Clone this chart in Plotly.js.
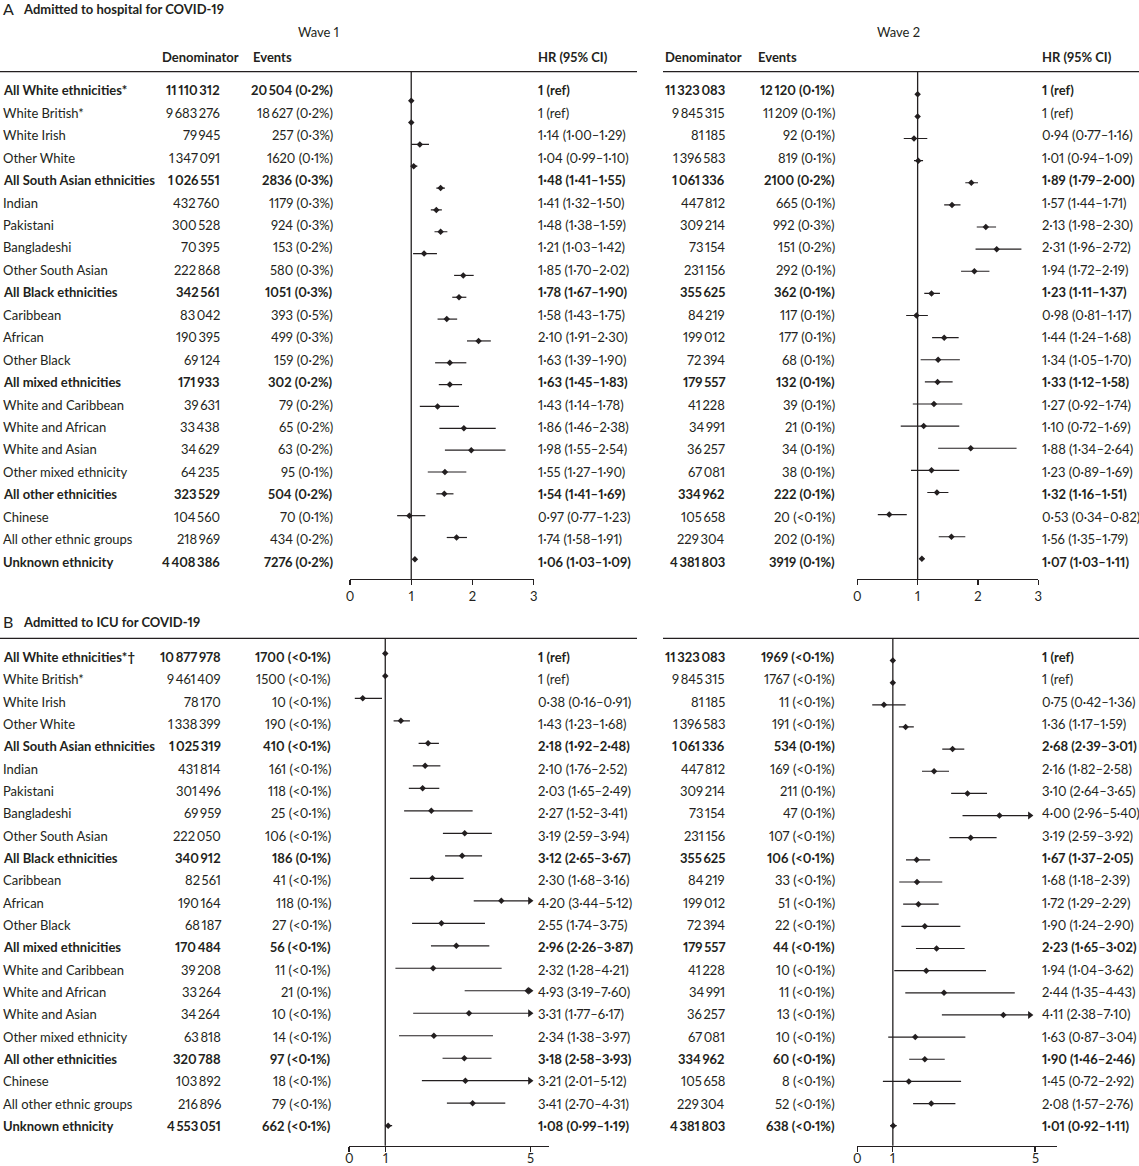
<!DOCTYPE html>
<html><head><meta charset="utf-8">
<script src="https://cdn.plot.ly/plotly-3.0.1.min.js"></script>
<style>html,body{margin:0;padding:0;background:#fff} svg text{font-variant-numeric: proportional-nums; font-feature-settings: "pnum" 1;}</style>
</head><body><div id="chart" style="width:1139px;height:1166px"></div>
<script>
// ---------------- DATA ----------------
const labelsA = ['All White ethnicities*','White British*','White Irish','Other White','All South Asian ethnicities','Indian','Pakistani','Bangladeshi','Other South Asian','All Black ethnicities','Caribbean','African','Other Black','All mixed ethnicities','White and Caribbean','White and African','White and Asian','Other mixed ethnicity','All other ethnicities','Chinese','All other ethnic groups','Unknown ethnicity'];
const labelsB = ['All White ethnicities*\u2020','White British*','White Irish','Other White','All South Asian ethnicities','Indian','Pakistani','Bangladeshi','Other South Asian','All Black ethnicities','Caribbean','African','Other Black','All mixed ethnicities','White and Caribbean','White and African','White and Asian','Other mixed ethnicity','All other ethnicities','Chinese','All other ethnic groups','Unknown ethnicity'];
const boldRows = [0,4,9,13,18,21];

// Panel A, wave 1
const denomA1 = [11110312,9683276,79945,1347091,1026551,432760,300528,70395,222868,342561,83042,190395,69124,171933,39631,33438,34629,64235,323529,104560,218969,4408386];
const eventsA1 = [20504,18627,257,1620,2836,1179,924,153,580,1051,393,499,159,302,79,65,63,95,504,70,434,7276];
const pctA1 = ['0.2','0.2','0.3','0.1','0.3','0.3','0.3','0.2','0.3','0.3','0.5','0.3','0.2','0.2','0.2','0.2','0.2','0.1','0.2','0.1','0.2','0.2'];
const hrA1 = [1,1,1.14,1.04,1.48,1.41,1.48,1.21,1.85,1.78,1.58,2.10,1.63,1.63,1.43,1.86,1.98,1.55,1.54,0.97,1.74,1.06];
const loA1 = [null,null,1.00,0.99,1.41,1.32,1.38,1.03,1.70,1.67,1.43,1.91,1.39,1.45,1.14,1.46,1.55,1.27,1.41,0.77,1.58,1.03];
const hiA1 = [null,null,1.29,1.10,1.55,1.50,1.59,1.42,2.02,1.90,1.75,2.30,1.90,1.83,1.78,2.38,2.54,1.90,1.69,1.23,1.91,1.09];

// Panel A, wave 2
const denomA2 = [11323083,9845315,81185,1396583,1061336,447812,309214,73154,231156,355625,84219,199012,72394,179557,41228,34991,36257,67081,334962,105658,229304,4381803];
const eventsA2 = [12120,11209,92,819,2100,665,992,151,292,362,117,177,68,132,39,21,34,38,222,20,202,3919];
const pctA2 = ['0.1','0.1','0.1','0.1','0.2','0.1','0.3','0.2','0.1','0.1','0.1','0.1','0.1','0.1','0.1','0.1','0.1','0.1','0.1','<0.1','0.1','0.1'];
const hrA2 = [1,1,0.94,1.01,1.89,1.57,2.13,2.31,1.94,1.23,0.98,1.44,1.34,1.33,1.27,1.10,1.88,1.23,1.32,0.53,1.56,1.07];
const loA2 = [null,null,0.77,0.94,1.79,1.44,1.98,1.96,1.72,1.11,0.81,1.24,1.05,1.12,0.92,0.72,1.34,0.89,1.16,0.34,1.35,1.03];
const hiA2 = [null,null,1.16,1.09,2.00,1.71,2.30,2.72,2.19,1.37,1.17,1.68,1.70,1.58,1.74,1.69,2.64,1.69,1.51,0.82,1.79,1.11];

// Panel B, wave 1
const denomB1 = [10877978,9461409,78170,1338399,1025319,431814,301496,69959,222050,340912,82561,190164,68187,170484,39208,33264,34264,63818,320788,103892,216896,4553051];
const eventsB1 = [1700,1500,10,190,410,161,118,25,106,186,41,118,27,56,11,21,10,14,97,18,79,662];
const pctB1 = ['<0.1','<0.1','<0.1','<0.1','<0.1','<0.1','<0.1','<0.1','<0.1','0.1','<0.1','0.1','<0.1','<0.1','<0.1','0.1','<0.1','<0.1','<0.1','<0.1','<0.1','<0.1'];
const hrB1 = [1,1,0.38,1.43,2.18,2.10,2.03,2.27,3.19,3.12,2.30,4.20,2.55,2.96,2.32,4.93,3.31,2.34,3.18,3.21,3.41,1.08];
const loB1 = [null,null,0.16,1.23,1.92,1.76,1.65,1.52,2.59,2.65,1.68,3.44,1.74,2.26,1.28,3.19,1.77,1.38,2.58,2.01,2.70,0.99];
const hiB1 = [null,null,0.91,1.68,2.48,2.52,2.49,3.41,3.94,3.67,3.16,5.12,3.75,3.87,4.21,7.60,6.17,3.97,3.93,5.12,4.31,1.19];

// Panel B, wave 2
const denomB2 = [11323083,9845315,81185,1396583,1061336,447812,309214,73154,231156,355625,84219,199012,72394,179557,41228,34991,36257,67081,334962,105658,229304,4381803];
const eventsB2 = [1969,1767,11,191,534,169,211,47,107,106,33,51,22,44,10,11,13,10,60,8,52,638];
const pctB2 = ['<0.1','<0.1','<0.1','<0.1','0.1','<0.1','0.1','0.1','<0.1','<0.1','<0.1','<0.1','<0.1','<0.1','<0.1','<0.1','<0.1','<0.1','<0.1','<0.1','<0.1','<0.1'];
const hrB2 = [1,1,0.75,1.36,2.68,2.16,3.10,4.00,3.19,1.67,1.68,1.72,1.90,2.23,1.94,2.44,4.11,1.63,1.90,1.45,2.08,1.01];
const loB2 = [null,null,0.42,1.17,2.39,1.82,2.64,2.96,2.59,1.37,1.18,1.29,1.24,1.65,1.04,1.35,2.38,0.87,1.46,0.72,1.57,0.92];
const hiB2 = [null,null,1.36,1.59,3.01,2.58,3.65,5.40,3.92,2.05,2.39,2.29,2.90,3.02,3.62,4.43,7.10,3.04,2.46,2.92,2.76,1.11];

const ticksA = [0,1,2,3];
const ticksB = [0,1,5];

// ---------------- HELPERS ----------------
const INK = '#231f20';
const FONT = 'Lato, "Open Sans", sans-serif';
const W = 1139, H = 1166;
const py = p => 1 - p / H;
const dot = s => String(s).replace('.', '\u00b7');
const fmtInt = n => { const s = String(n); return s.length >= 5 ? s.replace(/\B(?=(\d{3})+(?!\d))/g, '\u2009') : s; };
const fmtHR = (h, l, u) => l === null ? '1 (ref)' : dot(h.toFixed(2)) + ' (' + dot(l.toFixed(2)) + '\u2013' + dot(u.toFixed(2)) + ')';
const B = (s, i) => boldRows.includes(i) ? '<b>' + s + '</b>' : s;

const traces = [];
function forest(hr, lo, hi, xa, ya, cap, arrowBack) {
  const lx = [], ly = [], ax = [], ay = [];
  hr.forEach((h, i) => {
    if (lo[i] === null) return;
    if (cap !== null && hi[i] > cap) {
      lx.push(lo[i], cap - arrowBack, null); ly.push(i, i, null);
      ax.push(cap - arrowBack); ay.push(i);
    } else {
      lx.push(lo[i], hi[i], null); ly.push(i, i, null);
    }
  });
  traces.push({x: lx, y: ly, xaxis: xa, yaxis: ya, mode: 'lines', line: {color: INK, width: 1.2}, hoverinfo: 'skip', showlegend: false});
  traces.push({x: hr, y: hr.map((_, i) => i), xaxis: xa, yaxis: ya, mode: 'markers', marker: {symbol: 'diamond', size: 5, color: INK}, hoverinfo: 'skip', showlegend: false});
  if (ax.length) traces.push({x: ax, y: ay, xaxis: xa, yaxis: ya, mode: 'markers', marker: {symbol: 'triangle-right', size: 7, color: INK}, hoverinfo: 'skip', showlegend: false});
}
forest(hrA1, loA1, hiA1, 'x', 'y', null, 0);
forest(hrA2, loA2, hiA2, 'x2', 'y2', null, 0);
forest(hrB1, loB1, hiB1, 'x3', 'y3', 5.10, 0.11);
forest(hrB2, loB2, hiB2, 'x4', 'y4', 4.97, 0.114);
// anchor traces for the text-row axes
traces.push({x: [null], y: [null], xaxis: 'x5', yaxis: 'y5', mode: 'markers', hoverinfo: 'skip', showlegend: false});
traces.push({x: [null], y: [null], xaxis: 'x5', yaxis: 'y6', mode: 'markers', hoverinfo: 'skip', showlegend: false});

// ---------------- TEXT ----------------
const ann = [];
const tf = {family: FONT, size: 13, color: INK};
function txt(x, xref, yref, y, text, xanchor, extra) {
  ann.push(Object.assign({x: x, y: y, xref: xref, yref: yref, text: text, showarrow: false, xanchor: xanchor, yanchor: 'middle',
    borderpad: 0, borderwidth: 0, font: tf}, extra || {}));
}
function table(yref, labels, cols) {
  labels.forEach((l, i) => txt(3, 'x5', yref, i, B(l, i), 'left'));
  cols.forEach(c => {
    c.denom.forEach((d, i) => {
      txt(c.dx, 'x5', yref, i, B(fmtInt(d), i), 'right');
      txt(c.ex, 'x5', yref, i, B(fmtInt(c.events[i]) + ' (' + dot(c.pct[i]) + '%)', i), 'right');
      txt(c.hx, 'x5', yref, i, B(fmtHR(c.hr[i], c.lo[i], c.hi[i]), i), 'left');
    });
  });
}
table('y5', labelsA, [
  {denom: denomA1, events: eventsA1, pct: pctA1, hr: hrA1, lo: loA1, hi: hiA1, dx: 219.5, ex: 333, hx: 537.5},
  {denom: denomA2, events: eventsA2, pct: pctA2, hr: hrA2, lo: loA2, hi: hiA2, dx: 725, ex: 835, hx: 1041.5}
]);
table('y6', labelsB, [
  {denom: denomB1, events: eventsB1, pct: pctB1, hr: hrB1, lo: loB1, hi: hiB1, dx: 221, ex: 331, hx: 537.5},
  {denom: denomB2, events: eventsB2, pct: pctB2, hr: hrB2, lo: loB2, hi: hiB2, dx: 725, ex: 835, hx: 1041.5}
]);
// headers
txt(318, 'x5', 'paper', py(32), 'Wave 1', 'center');
txt(898, 'x5', 'paper', py(32), 'Wave 2', 'center');
txt(161.5, 'x5', 'paper', py(57), '<b>Denominator</b>', 'left');
txt(253, 'x5', 'paper', py(57), '<b>Events</b>', 'left');
txt(537.5, 'x5', 'paper', py(57), '<b>HR (95% CI)</b>', 'left');
txt(665, 'x5', 'paper', py(57), '<b>Denominator</b>', 'left');
txt(757.5, 'x5', 'paper', py(57), '<b>Events</b>', 'left');
txt(1041.5, 'x5', 'paper', py(57), '<b>HR (95% CI)</b>', 'left');
// panel titles
txt(2.5, 'x5', 'paper', py(8), 'A', 'left', {font: {family: FONT, size: 16, color: INK}});
txt(22.5, 'x5', 'paper', py(8.5), '<b>Admitted to hospital for COVID-19</b>', 'left');
txt(2.5, 'x5', 'paper', py(621.5), 'B', 'left', {font: {family: FONT, size: 16, color: INK}});
txt(22.5, 'x5', 'paper', py(622), '<b>Admitted to ICU for COVID-19</b>', 'left');
// panel B tick labels (placed through each axis' scale)
ticksB.forEach(t => {
  txt(t, 'x3', 'paper', py(1157.5), String(t), 'center');
  txt(t, 'x4', 'paper', py(1157.5), String(t), 'center');
});

// ---------------- SHAPES ----------------
const shapes = [];
[71.7, 638.3].forEach(yy => {
  shapes.push({type: 'line', xref: 'x5', yref: 'paper', x0: 0, x1: 637, y0: py(yy), y1: py(yy), line: {color: INK, width: 1.3}});
  shapes.push({type: 'line', xref: 'x5', yref: 'paper', x0: 663, x1: 1139, y0: py(yy), y1: py(yy), line: {color: INK, width: 1.3}});
});
['', '2', '3', '4'].forEach(k => {
  shapes.push({type: 'line', xref: 'x' + k, yref: 'y' + k + ' domain', x0: 1, x1: 1, y0: 0, y1: 1, line: {color: INK, width: 1.3}});
});

// ---------------- AXES ----------------
const domA = [py(579), py(71.7)];
const domB = [py(1145.7), py(638.3)];
const xax = (d, r, tv, anchor, labels) => ({domain: [d[0] / W, d[1] / W], range: r, anchor: anchor, tickvals: tv, ticktext: tv.map(String),
  showticklabels: labels, showline: true, linecolor: INK, linewidth: 1.3, ticks: 'outside', ticklen: 5, tickwidth: 1.3, tickcolor: INK,
  showgrid: false, zeroline: false, tickfont: {family: FONT, size: 13, color: INK}, fixedrange: true});
const yax = (dom, r, anchor) => ({domain: dom, range: r, anchor: anchor, visible: false, showgrid: false, zeroline: false, fixedrange: true});

const layout = {
  width: W, height: H, margin: {l: 0, r: 0, t: 0, b: 0},
  paper_bgcolor: '#fff', plot_bgcolor: 'rgba(0,0,0,0)', showlegend: false,
  font: {family: FONT, color: INK},
  xaxis: xax([350, 533.7], [0, 3], ticksA, 'y', true),
  xaxis2: xax([857.3, 1038.3], [0, 3], ticksA, 'y2', true),
  xaxis3: xax([349, 549.3], [0, 5.524], ticksB, 'y3', false),
  xaxis4: xax([857.3, 1056.7], [0, 5.61], ticksB, 'y4', false),
  xaxis5: {domain: [0, 1], range: [0, W], anchor: 'y5', visible: false, fixedrange: true},
  yaxis: yax(domA, [21.90, -1.328], 'x'),
  yaxis2: yax(domA, [21.91, -1.02], 'x2'),
  yaxis3: yax(domB, [21.889, -0.671], 'x3'),
  yaxis4: yax(domB, [21.903, -1.002], 'x4'),
  yaxis5: yax(domA, [21.77, -0.828], 'x5'),
  yaxis6: yax(domB, [21.885, -0.837], 'x5'),
  annotations: ann, shapes: shapes
};
Plotly.newPlot('chart', traces, layout, {staticPlot: true, displayModeBar: false});
</script></body></html>
